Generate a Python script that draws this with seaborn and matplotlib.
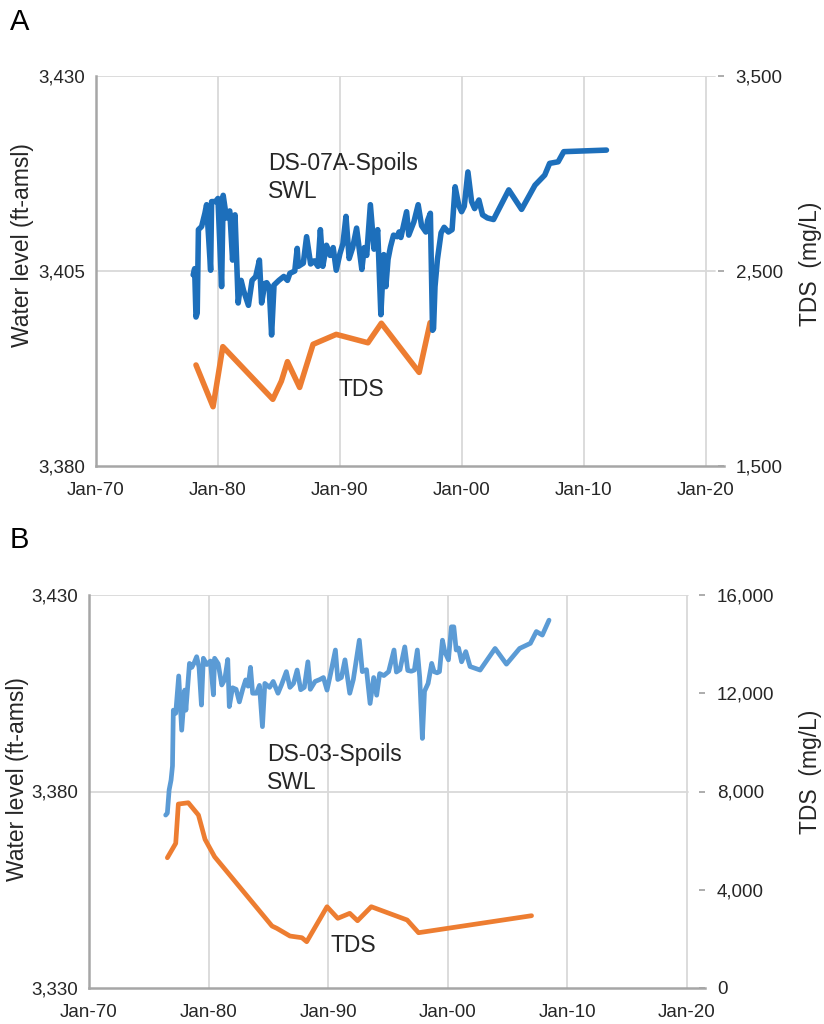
import matplotlib
matplotlib.use("Agg")
import matplotlib.pyplot as plt
import matplotlib.transforms as mtransforms
from matplotlib.lines import Line2D
from matplotlib.ticker import FuncFormatter
import seaborn as sns

sns.set_style("white")
plt.rcParams["font.family"] = ["Liberation Sans", "DejaVu Sans"]

# ---------------------------------------------------------------- data
decade_ticks = [1970, 1980, 1990, 2000, 2010, 2020]
decade_labels = ["Jan-70", "Jan-80", "Jan-90", "Jan-00", "Jan-10", "Jan-20"]

# Panel A: DS-07A-Spoils static water level (ft-amsl) and TDS (mg/L)
a_swl_year = [
    1977.97, 1978.09, 1978.20, 1978.30, 1978.40, 1978.66, 1978.93, 1979.07,
    1979.40, 1979.48, 1979.80, 1980.00, 1980.30, 1980.43, 1980.70, 1980.97,
    1981.20, 1981.40, 1981.66, 1981.90, 1982.10, 1982.50, 1982.80, 1983.10,
    1983.40, 1983.58, 1983.85, 1984.00, 1984.20, 1984.40, 1984.60, 1985.00,
    1985.40, 1985.70, 1985.90, 1986.30, 1986.50, 1986.60, 1987.00, 1987.27,
    1987.60, 1987.90, 1988.20, 1988.40, 1988.60, 1988.90, 1989.20, 1989.45,
    1989.70, 1990.00, 1990.25, 1990.50, 1990.76, 1991.05, 1991.37, 1991.80,
    1992.00, 1992.20, 1992.50, 1992.80, 1993.10, 1993.36, 1993.60, 1993.77,
    1993.95, 1994.15, 1994.40, 1994.70, 1994.85, 1995.00, 1995.47, 1995.65,
    1996.07, 1996.42, 1996.70, 1997.05, 1997.20, 1997.42, 1997.60, 1997.68,
    1997.80, 1998.00, 1998.30, 1998.55, 1998.90, 1999.20, 1999.45, 1999.75,
    1999.98, 2000.20, 2000.50, 2000.80, 2001.05, 2001.40, 2001.70, 2002.10,
    2002.60, 2003.85, 2004.90, 2006.00, 2006.80, 2007.20, 2007.90, 2008.36,
    2011.86,
]
a_swl_level = [
    3404.5, 3405.3, 3399.1, 3399.6, 3410.3, 3410.7, 3412.4, 3413.5,
    3405.1, 3413.9, 3413.9, 3414.3, 3403.0, 3414.7, 3411.8, 3412.7,
    3406.4, 3412.2, 3400.9, 3403.8, 3402.5, 3400.6, 3403.8, 3404.3,
    3406.4, 3400.9, 3403.4, 3403.5, 3403.0, 3396.8, 3403.2, 3403.8,
    3404.3, 3403.8, 3404.7, 3405.0, 3407.9, 3405.6, 3406.0, 3409.4,
    3405.9, 3406.3, 3405.6, 3410.3, 3405.6, 3408.3, 3407.0, 3408.0,
    3405.1, 3407.2, 3408.5, 3412.0, 3406.6, 3408.0, 3410.5, 3405.2,
    3408.0, 3407.0, 3413.5, 3407.8, 3410.3, 3399.4, 3407.1, 3403.0,
    3406.5, 3408.1, 3409.6, 3409.4, 3410.0, 3409.3, 3412.6, 3409.6,
    3411.3, 3413.5, 3410.8, 3410.0, 3411.5, 3412.4, 3397.4, 3397.6,
    3403.0, 3406.5, 3409.9, 3410.6, 3410.0, 3410.3, 3415.8, 3413.4,
    3412.6, 3413.3, 3417.7, 3413.9, 3413.0, 3414.1, 3412.2, 3411.8,
    3411.6, 3415.4, 3412.9, 3416.0, 3417.3, 3418.8, 3419.0, 3420.3,
    3420.5,
]
a_tds_year = [1978.2, 1979.6, 1980.4, 1984.5, 1985.2, 1985.7, 1986.7,
              1987.8, 1989.7, 1992.3, 1993.4, 1996.5, 1997.4]
a_tds_value = [2018, 1804, 2112, 1842, 1935, 2035, 1903,
               2124, 2175, 2132, 2232, 1980, 2235]

# Panel B: DS-03-Spoils static water level (ft-amsl) and TDS (mg/L)
b_swl_year = [
    1976.41, 1976.55, 1976.70, 1976.86, 1976.98, 1977.05, 1977.25, 1977.50,
    1977.75, 1978.00, 1978.10, 1978.40, 1978.60, 1978.80, 1979.00, 1979.20,
    1979.40, 1979.56, 1979.85, 1980.15, 1980.40, 1980.50, 1980.80, 1981.10,
    1981.35, 1981.60, 1981.73, 1982.00, 1982.30, 1982.57, 1982.85, 1983.10,
    1983.30, 1983.50, 1983.68, 1984.00, 1984.25, 1984.50, 1984.70, 1985.10,
    1985.40, 1985.80, 1986.10, 1986.50, 1986.80, 1987.10, 1987.40, 1987.70,
    1988.00, 1988.30, 1988.50, 1988.90, 1989.30, 1989.60, 1989.90, 1990.20,
    1990.60, 1990.80, 1991.10, 1991.40, 1991.80, 1992.10, 1992.60, 1992.85,
    1993.20, 1993.50, 1993.80, 1994.05, 1994.30, 1994.65, 1995.05, 1995.50,
    1995.70, 1996.00, 1996.40, 1996.65, 1996.95, 1997.20, 1997.45, 1997.65,
    1997.87, 1998.05, 1998.35, 1998.65, 1998.85, 1999.10, 1999.30, 1999.55,
    1999.75, 2000.05, 2000.30, 2000.50, 2000.70, 2000.90, 2001.15, 2001.50,
    2001.86, 2002.70, 2003.95, 2004.90, 2006.00, 2006.90, 2007.40, 2007.90,
    2008.46,
]
b_swl_level = [
    3374.0, 3374.5, 3380.4, 3382.9, 3386.5, 3400.7, 3399.9, 3409.4,
    3395.6, 3405.8, 3400.7, 3412.6, 3411.6, 3412.8, 3414.3, 3411.6,
    3402.0, 3413.9, 3412.3, 3413.2, 3404.6, 3413.9, 3412.5, 3407.1,
    3408.5, 3413.6, 3401.6, 3406.4, 3406.0, 3402.8, 3406.0, 3408.4,
    3406.8, 3411.6, 3405.0, 3405.0, 3407.0, 3396.5, 3407.5, 3406.5,
    3408.0, 3405.0, 3407.2, 3410.5, 3406.5, 3407.5, 3410.9, 3405.9,
    3406.5, 3413.0, 3406.0, 3408.0, 3408.5, 3409.0, 3405.8, 3410.0,
    3416.0, 3408.5, 3409.0, 3413.5, 3405.0, 3408.5, 3418.5, 3410.5,
    3411.0, 3402.4, 3409.0, 3404.5, 3410.0, 3409.5, 3410.5, 3416.0,
    3410.4, 3411.0, 3416.8, 3410.8, 3410.6, 3410.9, 3416.0, 3409.0,
    3393.5, 3405.5, 3407.5, 3412.6, 3410.5, 3410.2, 3410.5, 3418.5,
    3415.5, 3413.5, 3421.9, 3421.9, 3416.0, 3416.5, 3413.0, 3415.6,
    3411.8, 3410.9, 3416.4, 3412.4, 3416.4, 3417.7, 3420.7, 3419.8,
    3423.6,
]
b_tds_year = [1976.55, 1977.25, 1977.47, 1978.30, 1979.15, 1979.70, 1980.50,
              1985.30, 1985.70, 1986.80, 1987.80, 1988.20, 1989.90, 1990.80,
              1991.80, 1992.45, 1993.60, 1996.60, 1997.55, 2007.00]
b_tds_value = [5303, 5889, 7489, 7542, 7041, 6052, 5344,
               2523, 2430, 2116, 2047, 1884, 3309, 2837,
               3040, 2739, 3309, 2768, 2251, 2943]

# ---------------------------------------------------------------- styling
TEXT = "#262626"
GRID = "#D9D9D9"
AXIS = "#A6A6A6"
ORANGE = "#ED7D31"
BLUE_DARK = "#1D6FBB"
BLUE_LIGHT = "#5B9BD5"

TICK_FS = 13.5
LABEL_FS = 16.5
NOTE_FS = 16.5

W, H = 824, 1024
fig = plt.figure(figsize=(W / 100, H / 100), dpi=100)
fig.patch.set_facecolor("white")

thousands = FuncFormatter(lambda v, _: f"{v:,.0f}")


def draw_panel(rect, swl_x, swl_y, tds_x, tds_y, swl_color, lw,
               level_lim, level_ticks, tds_lim, tds_ticks, grid_end,
               ylabel_pos, y2label_pos, swl_note, tds_note):
    ax = fig.add_axes(rect)
    ax2 = ax.twinx()
    # water level on top of TDS
    ax.set_zorder(ax2.get_zorder() + 1)
    ax.patch.set_visible(False)

    x0, x1 = 1970, 2021.5
    ax.set_xlim(x0, x1)
    ax.set_ylim(*level_lim)
    ax2.set_ylim(*tds_lim)

    # gridlines live on the lower axes so that both series sit above them
    for d in decade_ticks[1:]:
        ax2.axvline(d, color=GRID, lw=1.3, zorder=0)
    hblend = mtransforms.blended_transform_factory(ax2.transAxes, ax.transData)
    for lv in level_ticks[1:]:
        ax2.add_line(Line2D([0, grid_end], [lv, lv], transform=hblend,
                            color=GRID, lw=1.3, zorder=0))

    sns.lineplot(x=tds_x, y=tds_y, ax=ax2, color=ORANGE, linewidth=lw,
                 estimator=None, sort=False, solid_capstyle="round",
                 solid_joinstyle="round")
    sns.lineplot(x=swl_x, y=swl_y, ax=ax, color=swl_color, linewidth=lw,
                 estimator=None, sort=False, solid_capstyle="round",
                 solid_joinstyle="round")

    ax.set_xticks(decade_ticks)
    ax.set_xticklabels(decade_labels)
    ax.set_yticks(level_ticks)
    ax.yaxis.set_major_formatter(thousands)
    ax2.set_yticks(tds_ticks)
    ax2.yaxis.set_major_formatter(thousands)

    ax.tick_params(axis="x", length=0, pad=11.5, labelsize=TICK_FS,
                   labelcolor=TEXT)
    ax.tick_params(axis="y", length=0, pad=8, labelsize=TICK_FS,
                   labelcolor=TEXT)
    ax2.tick_params(axis="y", direction="in", length=4.3, width=1.3,
                    color=AXIS, pad=8.5, labelsize=TICK_FS, labelcolor=TEXT)

    for side in ("top", "right"):
        ax.spines[side].set_visible(False)
    for side in ("left", "bottom"):
        ax.spines[side].set_color(AXIS)
        ax.spines[side].set_linewidth(1.8)
    for side in ax2.spines:
        ax2.spines[side].set_visible(False)

    ax.set_xlabel("")
    ax.set_ylabel("Water level (ft-amsl)", fontsize=LABEL_FS, color=TEXT,
                  va="center")
    ax.yaxis.set_label_coords(*ylabel_pos)
    ax2.set_ylabel("TDS  (mg/L)", fontsize=LABEL_FS, color=TEXT,
                   va="center", rotation=90)
    ax2.yaxis.set_label_coords(*y2label_pos)

    ax.text(swl_note[0], swl_note[1], swl_note[2], fontsize=NOTE_FS,
            color=TEXT, ha="left", va="top", linespacing=1.25)
    ax.text(tds_note[0], tds_note[1], "TDS", fontsize=NOTE_FS,
            color=TEXT, ha="left", va="top")
    return ax, ax2


# Panel A
draw_panel(
    rect=[96 / W, 1 - 466 / H, 628 / W, 390 / H],
    swl_x=a_swl_year, swl_y=a_swl_level, tds_x=a_tds_year, tds_y=a_tds_value,
    swl_color=BLUE_DARK, lw=4.0,
    level_lim=(3380, 3430), level_ticks=[3380, 3405, 3430],
    tds_lim=(1500, 3500), tds_ticks=[1500, 2500, 3500],
    grid_end=619 / 628,
    ylabel_pos=(-0.117, 0.567), y2label_pos=(1.137, 0.518),
    swl_note=(1984.1, 3420.2, "DS-07A-Spoils\nSWL"),
    tds_note=(1989.9, 3391.3),
)

# Panel B
draw_panel(
    rect=[89 / W, 1 - 988 / H, 616 / W, 393 / H],
    swl_x=b_swl_year, swl_y=b_swl_level, tds_x=b_tds_year, tds_y=b_tds_value,
    swl_color=BLUE_LIGHT, lw=3.4,
    level_lim=(3330, 3430), level_ticks=[3330, 3380, 3430],
    tds_lim=(0, 16000), tds_ticks=[0, 4000, 8000, 12000, 16000],
    grid_end=599 / 616,
    ylabel_pos=(-0.116, 0.532), y2label_pos=(1.172, 0.550),
    swl_note=(1984.9, 3392.3, "DS-03-Spoils\nSWL"),
    tds_note=(1990.15, 3343.8),
)

fig.text(10 / W, 1 - 8 / H, "A", fontsize=21, color="#000000",
         ha="left", va="top")
fig.text(10 / W, 1 - 526 / H, "B", fontsize=21, color="#000000",
         ha="left", va="top")

fig.savefig("out.png", dpi=100, facecolor="white")
